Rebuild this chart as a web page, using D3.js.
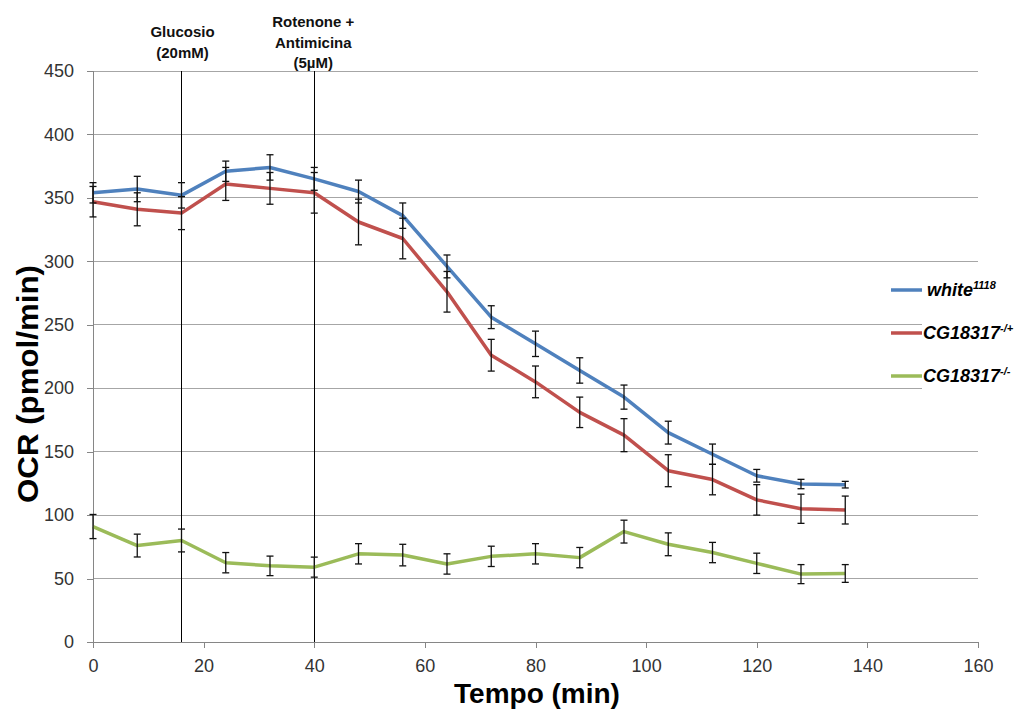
<!DOCTYPE html>
<html>
<head>
<meta charset="utf-8">
<script src="https://cdn.jsdelivr.net/npm/d3@7"></script>
<style>
  body { margin: 0; background: #fff; }
  svg { display: block; font-family: "Liberation Sans", Arial, sans-serif; }
</style>
</head>
<body>
<svg id="chart" width="1018" height="713"></svg>
<script>
// tempo (min)
var time = [0, 8, 16, 24, 32, 40, 48, 56, 64, 72, 80, 88, 96, 104, 112, 120, 128, 136];

// white1118
var whiteVals = [354, 357, 352, 371, 374, 365, 355, 336, 296, 256, 235, 214, 193, 165, 148, 131, 124.5, 124];
var whiteErr  = [8, 10, 10, 8, 10, 9, 9, 10, 9, 9, 10, 10, 9.5, 9, 8, 5, 3.7, 2.6];

// CG18317 -/+
var hetVals = [347, 341, 338, 361, 357.5, 354, 331, 318, 276, 226, 205, 181, 163, 135, 128, 112, 105, 104];
var hetErr  = [12, 13, 13, 13, 12.5, 16, 18, 16, 16, 12.5, 12.5, 12, 13, 12.6, 12, 12, 11.5, 11];

// CG18317 -/-
var koVals = [91, 76, 80, 62.5, 60, 59, 69.5, 68.5, 61.5, 67.5, 69.5, 66.5, 87, 77, 70.5, 62, 53.5, 54];
var koErr  = [9.5, 9, 9, 8, 7.7, 7.9, 8, 8.5, 8, 8, 8, 8, 9, 9, 8, 8, 7.5, 7];

var xTicks = [0, 20, 40, 60, 80, 100, 120, 140, 160];
var yTicks = [0, 50, 100, 150, 200, 250, 300, 350, 400, 450];

// injection markers
var injections = [
  { t: 16, label: ["Glucosio", "(20mM)"] },
  { t: 40, label: ["Rotenone +", "Antimicina", "(5\u00B5M)"] }
];

var series = [
  { name: "white", sup: "1118", vals: whiteVals, err: whiteErr, color: "#4f81bd" },
  { name: "CG18317", sup: "-/+", vals: hetVals, err: hetErr, color: "#c0504d" },
  { name: "CG18317", sup: "-/-", vals: koVals, err: koErr, color: "#9bbb59" }
];

(function () {
  var svg = d3.select("#chart");
  var plotLeft = 93, plotRight = 978, plotTop = 71, plotBottom = 642;

  var x = d3.scaleLinear().domain([0, 160]).range([plotLeft, plotRight]);
  var y = d3.scaleLinear().domain([0, 450]).range([plotBottom, plotTop]);

  // grid
  svg.append("g")
    .selectAll("line")
    .data(yTicks.slice(1))
    .enter().append("line")
    .attr("x1", plotLeft).attr("x2", plotRight)
    .attr("y1", function(d) { return y(d); })
    .attr("y2", function(d) { return y(d); })
    .attr("stroke", "#a6a6a6")
    .attr("stroke-width", 1)
    .attr("shape-rendering", "crispEdges");

  // white box behind the legend text
  svg.append("rect")
    .attr("x", 922).attr("y", 300).attr("width", 96).attr("height", 100)
    .attr("fill", "#fff");

  // axes
  var yAxis = d3.axisLeft(y).tickValues(yTicks).tickSize(6).tickPadding(13);
  var xAxis = d3.axisBottom(x).tickValues(xTicks).tickSize(6).tickPadding(11);

  var gy = svg.append("g").attr("transform", "translate(" + plotLeft + ",0)").call(yAxis);
  var gx = svg.append("g").attr("transform", "translate(0," + plotBottom + ")").call(xAxis);

  [gx, gy].forEach(function(g) {
    g.select(".domain").attr("stroke", "#868686").attr("shape-rendering", "crispEdges");
    g.selectAll(".tick line").attr("stroke", "#868686").attr("shape-rendering", "crispEdges");
    g.selectAll(".tick text")
      .attr("fill", "#333")
      .style("font-family", "'Liberation Sans', Arial, sans-serif")
      .style("font-size", "18px");
  });

  // injection lines + labels
  var inj = svg.append("g");
  injections.forEach(function(d) {
    inj.append("line")
      .attr("x1", x(d.t)).attr("x2", x(d.t))
      .attr("y1", y(450)).attr("y2", y(0))
      .attr("stroke", "#000")
      .attr("stroke-width", 1)
      .attr("shape-rendering", "crispEdges");
    var n = d.label.length;
    var t = inj.append("text")
      .attr("text-anchor", "middle")
      .attr("font-weight", "bold")
      .attr("font-size", "15px")
      .attr("fill", "#111");
    d.label.forEach(function(s, i) {
      t.append("tspan")
        .attr("x", x(d.t) + (n == 3 ? -1 : 1))
        .attr("y", (n == 3 ? 27 : 37) + i * 20.5)
        .text(s);
    });
  });

  // lines
  var line = d3.line()
    .x(function(d) { return x(d[0]); })
    .y(function(d) { return y(d[1]); });

  series.forEach(function(s) {
    var pts = time.map(function(t, i) { return [t, s.vals[i]]; });
    svg.append("path")
      .datum(pts)
      .attr("d", line)
      .attr("fill", "none")
      .attr("stroke", s.color)
      .attr("stroke-width", 3.5)
      .attr("stroke-linejoin", "round");
  });

  // error bars
  var cap = 3.5;
  series.forEach(function(s) {
    var g = svg.append("g").attr("stroke", "#111").attr("stroke-width", 1.3);
    time.forEach(function(t, i) {
      var cx = x(t), hi = y(s.vals[i] + s.err[i]), lo = y(s.vals[i] - s.err[i]);
      g.append("line").attr("x1", cx).attr("x2", cx).attr("y1", hi).attr("y2", lo);
      g.append("line").attr("x1", cx - cap).attr("x2", cx + cap).attr("y1", hi).attr("y2", hi);
      g.append("line").attr("x1", cx - cap).attr("x2", cx + cap).attr("y1", lo).attr("y2", lo);
    });
  });

  // legend
  var legendY = [290, 333, 376];
  series.forEach(function(s, i) {
    var ly = legendY[i];
    svg.append("line")
      .attr("x1", 891).attr("x2", 922)
      .attr("y1", ly).attr("y2", ly)
      .attr("stroke", s.color)
      .attr("stroke-width", 3.5);
    var t = svg.append("text")
      .attr("x", i == 0 ? 927 : 923)
      .attr("y", ly + 6)
      .attr("font-weight", "bold")
      .attr("font-style", "italic")
      .attr("font-size", "18px")
      .attr("fill", "#000");
    t.append("tspan").text(s.name);
    t.append("tspan")
      .attr("dy", -7)
      .attr("font-size", "11px")
      .text(s.sup);
  });

  // axis titles
  svg.append("text")
    .attr("transform", "translate(38,384) rotate(-90)")
    .attr("text-anchor", "middle")
    .attr("font-weight", "bold")
    .attr("font-size", "29px")
    .attr("textLength", 238)
    .attr("lengthAdjust", "spacingAndGlyphs")
    .attr("fill", "#000")
    .text("OCR (pmol/min)");

  svg.append("text")
    .attr("x", 537)
    .attr("y", 703)
    .attr("text-anchor", "middle")
    .attr("font-weight", "bold")
    .attr("font-size", "28px")
    .attr("fill", "#000")
    .text("Tempo (min)");
})();
</script>
</body>
</html>
